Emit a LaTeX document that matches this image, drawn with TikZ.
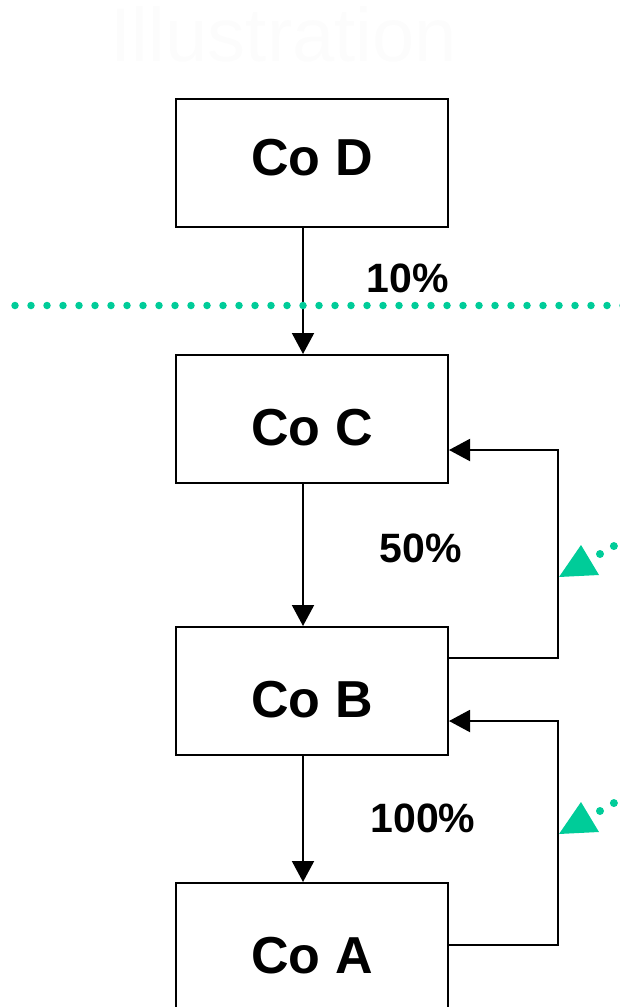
\documentclass[tikz,border=0pt]{standalone}
\usepackage{fontspec}
\setmainfont{Liberation Sans}
\usetikzlibrary{arrows.meta,calc}
\definecolor{mint}{RGB}{0,204,153}
\definecolor{ghost}{RGB}{252,252,252}
\tikzset{
  company/.style={draw=black, line width=2pt, minimum width=272pt, minimum height=128pt,
    inner sep=0pt, anchor=north west, font=\fontsize{52}{52}\selectfont\bfseries,
    text height=37.5pt, text depth=12.9pt},
  lowtext/.style={text height=64.5pt, text depth=12.5pt},
  share/.style={anchor=base, inner sep=0pt, font=\fontsize{41}{41}\selectfont\bfseries},
  link/.style={draw=black, line width=2pt, -{Triangle[length=21pt,width=22pt]}},
  border/.style={draw=mint, line width=7.5pt, line cap=round, dash pattern=on 0pt off 16pt},
  hint/.style={draw=mint, line width=8pt, line cap=round, dash pattern=on 0pt off 16pt}
}
\begin{document}
\begin{tikzpicture}[x=1pt, y=-1pt]
  \useasboundingbox (0,0) rectangle (619,1007);

  % faint heading
  \node[anchor=base, inner sep=0pt, text=ghost, font=\fontsize{76}{76}\selectfont] (title) at (284,61) {Illustration};

  % ownership chain
  \node[company] (D) at (175,98) {Co D};
  \node[company, lowtext] (C) at (175,354) {Co C};
  \node[company, lowtext] (B) at (175,626) {Co B};
  \node[company, lowtext] (A) at (175,882) {Co A};

  \coordinate (ax) at (303,0);
  \draw[link] (D.south -| ax) -- (C.north -| ax);
  \draw[link] (C.south -| ax) -- (B.north -| ax);
  \draw[link] (B.south -| ax) -- (A.north -| ax);

  \node[share] (p10) at (408,292) {10\%};
  \node[share] (p50) at (421,562) {50\%};
  \node[share] (p100) at (423,832) {100\%};

  % dotted boundary
  \coordinate (bl) at (15,305.5);
  \coordinate (br) at (625,305.5);
  \draw[border] (bl) -- (br);

  % feedback loops on the right
  \coordinate (k1) at (558,658);
  \coordinate (k2) at (558,450);
  \draw[link] (B.east |- k1) -- (k1) -- (k2) -- (C.east |- k2);
  \coordinate (k3) at (558,945);
  \coordinate (k4) at (558,721);
  \draw[link] (A.east |- k3) -- (k3) -- (k4) -- (B.east |- k4);

  % green pointers
  \foreach \dy in {0,257} {
    \fill[mint] (559,577+\dy) -- (581,545+\dy) -- (599,575+\dy) -- cycle;
    \draw[hint] (600,554+\dy) -- (650,525.3+\dy);
  }
\end{tikzpicture}
\end{document}
